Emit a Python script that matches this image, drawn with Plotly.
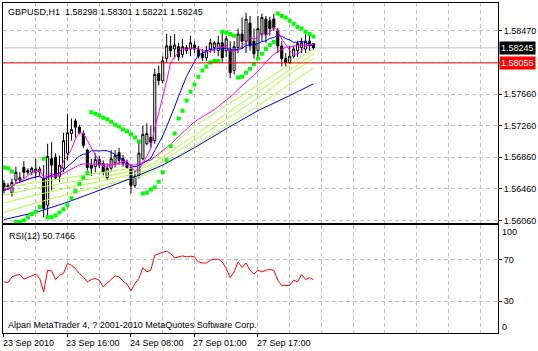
import plotly.graph_objects as go
import pandas as pd

# ---------------- data (H1 bars, GBPUSD) ----------------
bars = list(range(79))
opens = [1.5653, 1.5650, 1.5641, 1.5657, 1.5657, 1.5673, 1.5669, 1.5667, 1.5667, 1.5667,
         1.5659, 1.5625, 1.5684, 1.5686, 1.5662, 1.5672, 1.5691, 1.5716, 1.5732, 1.5724,
         1.5716, 1.5695, 1.5676, 1.5674, 1.5683, 1.5678, 1.5660, 1.5672, 1.5679, 1.5692,
         1.5684, 1.5679, 1.5673, 1.5650, 1.5663, 1.5684, 1.5703, 1.5711, 1.5707, 1.5792,
         1.5783, 1.5811, 1.5827, 1.5823, 1.5826, 1.5816, 1.5821, 1.5823, 1.5828, 1.5822,
         1.5817, 1.5812, 1.5823, 1.5825, 1.5821, 1.5831, 1.5821, 1.5823, 1.5796, 1.5825,
         1.5842, 1.5833, 1.5856, 1.5833, 1.5821, 1.5842, 1.5861, 1.5859, 1.5861, 1.5846,
         1.5827, 1.5811, 1.5806, 1.5814, 1.5821, 1.5825, 1.5823, 1.5833, 1.58298]
highs = [1.5657, 1.5653, 1.5659, 1.5674, 1.5667, 1.5681, 1.5672, 1.5674, 1.5684, 1.5674,
         1.5676, 1.5703, 1.5705, 1.5691, 1.5688, 1.5717, 1.5741, 1.5735, 1.5735, 1.5727,
         1.5720, 1.5697, 1.5684, 1.5691, 1.5688, 1.5682, 1.5678, 1.5695, 1.5695, 1.5698,
         1.5689, 1.5683, 1.5676, 1.5669, 1.5705, 1.5726, 1.5729, 1.5726, 1.5798, 1.5802,
         1.5814, 1.5842, 1.5840, 1.5842, 1.5831, 1.5836, 1.5828, 1.5840, 1.5833, 1.5827,
         1.5823, 1.5827, 1.5836, 1.5833, 1.5840, 1.5844, 1.5840, 1.5833, 1.5833, 1.5849,
         1.5863, 1.5869, 1.5865, 1.5849, 1.5865, 1.5868, 1.5865, 1.5864, 1.5868, 1.5850,
         1.5833, 1.5818, 1.5827, 1.5827, 1.5833, 1.5837, 1.5842, 1.5840, 1.58301]
lows = [1.5640, 1.5644, 1.5636, 1.5653, 1.5654, 1.5659, 1.5664, 1.5663, 1.5659, 1.5662,
        1.5610, 1.5611, 1.5644, 1.5657, 1.5654, 1.5667, 1.5682, 1.5707, 1.5711, 1.5715,
        1.5698, 1.5669, 1.5662, 1.5667, 1.5672, 1.5663, 1.5657, 1.5669, 1.5673, 1.5677,
        1.5674, 1.5671, 1.5640, 1.5647, 1.5659, 1.5682, 1.5701, 1.5698, 1.5703, 1.5777,
        1.5780, 1.5806, 1.5813, 1.5811, 1.5808, 1.5812, 1.5817, 1.5814, 1.5818, 1.5811,
        1.5808, 1.5808, 1.5818, 1.5818, 1.5814, 1.5806, 1.5813, 1.5786, 1.5791, 1.5818,
        1.5823, 1.5818, 1.5821, 1.5811, 1.5813, 1.5833, 1.5831, 1.5840, 1.5846, 1.5818,
        1.5801, 1.5801, 1.5804, 1.5811, 1.5813, 1.5818, 1.5818, 1.5821, 1.58221]
closes = [1.5644, 1.5647, 1.5654, 1.5667, 1.5660, 1.5667, 1.5667, 1.5672, 1.5671, 1.5671,
          1.5621, 1.5687, 1.5676, 1.5660, 1.5676, 1.5707, 1.5717, 1.5721, 1.5724, 1.5717,
          1.5701, 1.5673, 1.5672, 1.5683, 1.5676, 1.5667, 1.5672, 1.5684, 1.5688, 1.5682,
          1.5678, 1.5673, 1.5650, 1.5662, 1.5691, 1.5715, 1.5716, 1.5705, 1.5791, 1.5783,
          1.5808, 1.5827, 1.5821, 1.5828, 1.5813, 1.5826, 1.5825, 1.5831, 1.5823, 1.5814,
          1.5812, 1.5821, 1.5831, 1.5831, 1.5831, 1.5812, 1.5836, 1.5793, 1.5826, 1.5842,
          1.5833, 1.5861, 1.5827, 1.5817, 1.5849, 1.5863, 1.5842, 1.5849, 1.5850, 1.5827,
          1.5811, 1.5806, 1.5814, 1.5823, 1.5830, 1.5831, 1.5833, 1.5827, 1.58245]

sar = [1.5673, 1.5672, 1.5668, 1.5604, 1.5604, 1.5606, 1.5610, 1.5614, 1.5617, 1.5623,
       1.5684, 1.5610, 1.5610, 1.5612, 1.5616, 1.5620, 1.5625, 1.5634, 1.5643, 1.5652,
       1.5660, 1.5666, 1.5743, 1.5741, 1.5739, 1.5736, 1.5734, 1.5731, 1.5727, 1.5725,
       1.5721, 1.5719, 1.5715, 1.5711, 1.5706, 1.5640, 1.5641, 1.5645, 1.5648, 1.5655,
       1.5667, 1.5682, 1.5700, 1.5716, 1.5735, 1.5745, 1.5758, 1.5769, 1.5778, 1.5788,
       1.5796, 1.5801, 1.5806, 1.5808, 1.5808, 1.5845, 1.5844, 1.5842, 1.5840, 1.5787,
       1.5788, 1.5793, 1.5798, 1.5804, 1.5811, 1.5817, 1.5823, 1.5828, 1.5832, 1.5868,
       1.5865, 1.5863, 1.5859, 1.5855, 1.5851, 1.5849, 1.5845, 1.5842, 1.5839]

rsi = [48.5, 47.9, 53.3, 54.9, 55.6, 51.1, 52.7, 54.0, 55.9, 51.8,
       38.9, 59.7, 59.1, 50.8, 54.9, 56.6, 66.2, 64.5, 61.4, 56.6,
       53.3, 48.5, 50.8, 51.8, 50.1, 43.7, 47.6, 50.8, 54.3, 53.3,
       49.2, 46.3, 39.9, 47.0, 51.8, 62.3, 58.1, 59.7, 74.1, 75.8,
       77.0, 78.0, 75.8, 71.5, 72.5, 73.5, 72.5, 73.2, 72.5, 67.7,
       66.7, 66.7, 69.3, 70.3, 70.3, 67.7, 61.4, 52.7, 58.1, 67.7,
       62.3, 66.7, 59.7, 55.9, 59.7, 58.1, 59.7, 60.4, 59.7, 50.1,
       45.1, 45.1, 45.1, 50.1, 48.5, 55.6, 50.8, 52.4, 50.7466]

ribbon_bars = [0, 8, 16, 24, 32, 36, 40, 48, 56, 64, 72, 78]
ribbon_1 = [1.5647, 1.5654, 1.5660, 1.5666, 1.5672, 1.5678, 1.5692, 1.5725, 1.5751, 1.5778, 1.5804, 1.5823]
ribbon_2 = [1.5638, 1.5647, 1.5654, 1.5660, 1.5668, 1.5674, 1.5686, 1.5713, 1.5741, 1.5769, 1.5797, 1.5817]
ribbon_3 = [1.5628, 1.5638, 1.5647, 1.5655, 1.5664, 1.5669, 1.5681, 1.5707, 1.5734, 1.5761, 1.5791, 1.5811]
ribbon_4 = [1.5616, 1.5628, 1.5639, 1.5649, 1.5659, 1.5664, 1.5676, 1.5700, 1.5725, 1.5751, 1.5779, 1.5799]
slow_bars = [0, 8, 16, 24, 32, 40, 48, 56, 64, 72, 78]
slow_ma = [1.5607, 1.5616, 1.5629, 1.5644, 1.5659, 1.5676, 1.5698, 1.5722, 1.5745, 1.5764, 1.5779]

date_ticks = [0, 16, 32, 48, 64]
date_labels = ["23 Sep 2010", "23 Sep 16:00", "24 Sep 08:00", "27 Sep 01:00", "27 Sep 17:00"]
price_ticks = [1.5606, 1.5646, 1.5686, 1.5726, 1.5766, 1.5806, 1.5846]
price_labels = ["1.56060", "1.56460", "1.56860", "1.57260", "1.57660", "", "1.58470"]
bid_price = 1.58245
line_price = 1.58055
rsi_ticks = [30, 70]
rsi_extremes = [100, 0]

title_text = "GBPUSD,H1\u00a0\u00a01.58298\u00a01.58301\u00a01.58221\u00a01.58245"
rsi_text = "RSI(12) 50.7466"
footer_text = "Alpari MetaTrader 4, ? 2001-2010 MetaQuotes Software Corp."

# ---------------- derived indicators ----------------
cs = pd.Series(closes)
ma_fast = cs.rolling(5, min_periods=1).mean()
ma_mid = cs.rolling(12, min_periods=1).mean()
ma_slow = cs.rolling(34, min_periods=1).mean()

FONT = "Liberation Sans, Arial, sans-serif"
GRID = "#C0C0C0"
DASH = "4px,3px"

fig = go.Figure()
fig.add_trace(go.Candlestick(
    x=bars, open=opens, high=highs, low=lows, close=closes,
    increasing=dict(line=dict(color="black", width=1), fillcolor="white"),
    decreasing=dict(line=dict(color="black", width=1), fillcolor="black"),
    whiskerwidth=0, xaxis="x", yaxis="y", showlegend=False, hoverinfo="skip"))

for ys in [ribbon_4, ribbon_3, ribbon_2, ribbon_1]:
    fig.add_trace(go.Scatter(x=ribbon_bars, y=ys, mode="lines", line=dict(color="#ADFF2F", width=1),
                             xaxis="x", yaxis="y", showlegend=False, hoverinfo="skip"))
fig.add_trace(go.Scatter(x=slow_bars, y=slow_ma, mode="lines", line=dict(color="#0000CD", width=1),
                         xaxis="x", yaxis="y", showlegend=False, hoverinfo="skip"))
fig.add_trace(go.Scatter(x=bars, y=ma_slow, mode="lines", line=dict(color="#FF00FF", width=1),
                         xaxis="x", yaxis="y", showlegend=False, hoverinfo="skip"))
fig.add_trace(go.Scatter(x=bars, y=ma_mid, mode="lines", line=dict(color="#0000FF", width=1),
                         xaxis="x", yaxis="y", showlegend=False, hoverinfo="skip"))
fig.add_trace(go.Scatter(x=bars, y=ma_fast, mode="lines", line=dict(color="#FF00FF", width=1),
                         xaxis="x", yaxis="y", showlegend=False, hoverinfo="skip"))
fig.add_trace(go.Scatter(x=bars, y=sar, mode="markers",
                         marker=dict(symbol="square", size=4, color="#00FF00", line=dict(width=0)),
                         xaxis="x", yaxis="y", showlegend=False, hoverinfo="skip"))
fig.add_trace(go.Scatter(x=bars, y=rsi, mode="lines", line=dict(color="#FF0000", width=1),
                         xaxis="x2", yaxis="y2", showlegend=False, hoverinfo="skip"))

XR = [-0.25, 124.5]
axis_common = dict(showline=True, mirror=True, linecolor="black", linewidth=1, zeroline=False)

fig.update_layout(
    width=538, height=351,
    margin=dict(l=2, r=37, t=2, b=18),
    paper_bgcolor="white", plot_bgcolor="white",
    font=dict(family=FONT, size=9, color="black"),
    showlegend=False,
    boxgap=0.25,
    xaxis=dict(domain=[0, 1], range=XR, anchor="y", tickmode="linear", tick0=0, dtick=8,
               showticklabels=False, ticks="", showgrid=True, gridcolor=GRID, griddash=DASH,
               rangeslider=dict(visible=False), **axis_common),
    xaxis2=dict(domain=[0, 1], range=XR, anchor="y2", tickmode="array", tickvals=date_ticks,
                showticklabels=False, ticks="outside", ticklen=3, tickcolor="black",
                showgrid=True, gridcolor=GRID, griddash=DASH,
                minor=dict(tickmode="linear", tick0=0, dtick=8, showgrid=True, gridcolor=GRID,
                           griddash=DASH, ticks=""),
                **axis_common),
    yaxis=dict(domain=[0.3323, 1], range=[1.560221, 1.588137], anchor="x", side="right",
               tickmode="array", tickvals=price_ticks, ticktext=price_labels,
               ticks="outside", ticklen=3, tickcolor="black",
               showgrid=True, gridcolor=GRID, griddash=DASH, **axis_common),
    yaxis2=dict(domain=[0, 0.3263], range=[-0.7, 102.9], anchor="x2", side="right",
                tickmode="array", tickvals=rsi_ticks, ticktext=[str(v) for v in rsi_ticks],
                ticks="outside", ticklen=3, tickcolor="black",
                showgrid=True, gridcolor=GRID, griddash=DASH, **axis_common),
)

fig.add_shape(type="line", xref="paper", x0=0, x1=1, yref="y", y0=bid_price, y1=bid_price,
              line=dict(color="#C0C0C0", width=1), layer="below")
fig.add_shape(type="line", xref="paper", x0=0, x1=1, yref="y", y0=line_price, y1=line_price,
              line=dict(color="#FF0000", width=1), layer="above")

ann = []
ann.append(dict(text=title_text, xref="paper", x=0, xanchor="left", xshift=3,
                yref="paper", y=1, yanchor="top", yshift=-2, showarrow=False,
                font=dict(family=FONT, size=9, color="black")))
ann.append(dict(text=rsi_text, xref="paper", x=0, xanchor="left", xshift=4,
                yref="y2 domain", y=1, yanchor="top", yshift=-4, showarrow=False,
                font=dict(family=FONT, size=9, color="black")))
ann.append(dict(text=footer_text, xref="paper", x=0, xanchor="left", xshift=3,
                yref="y2 domain", y=0, yanchor="bottom", yshift=1, showarrow=False,
                font=dict(family=FONT, size=9, color="black")))
for t, lab in zip(date_ticks, date_labels):
    ann.append(dict(text=lab, xref="x2", x=t, xanchor="left", xshift=-3,
                    yref="y2 domain", y=0, yanchor="top", yshift=-3, showarrow=False,
                    font=dict(family=FONT, size=9, color="black")))
ann.append(dict(text=f"{bid_price:.5f}", xref="paper", x=1, xanchor="left", xshift=1,
                yref="y", y=bid_price, yanchor="middle", showarrow=False, bgcolor="black",
                borderpad=1, font=dict(family=FONT, size=9, color="white")))
ann.append(dict(text=f"{line_price:.5f}", xref="paper", x=1, xanchor="left", xshift=1,
                yref="y", y=line_price, yanchor="middle", showarrow=False, bgcolor="#FF0000",
                borderpad=1, font=dict(family=FONT, size=9, color="white")))
for v, sh in zip(rsi_extremes, [-4, 5]):
    ann.append(dict(text=str(v), xref="paper", x=1, xanchor="left", xshift=2,
                    yref="y2", y=v, yanchor="middle", yshift=sh, showarrow=False,
                    font=dict(family=FONT, size=9, color="black")))
fig.update_layout(annotations=ann)

fig.write_html("out.html")
